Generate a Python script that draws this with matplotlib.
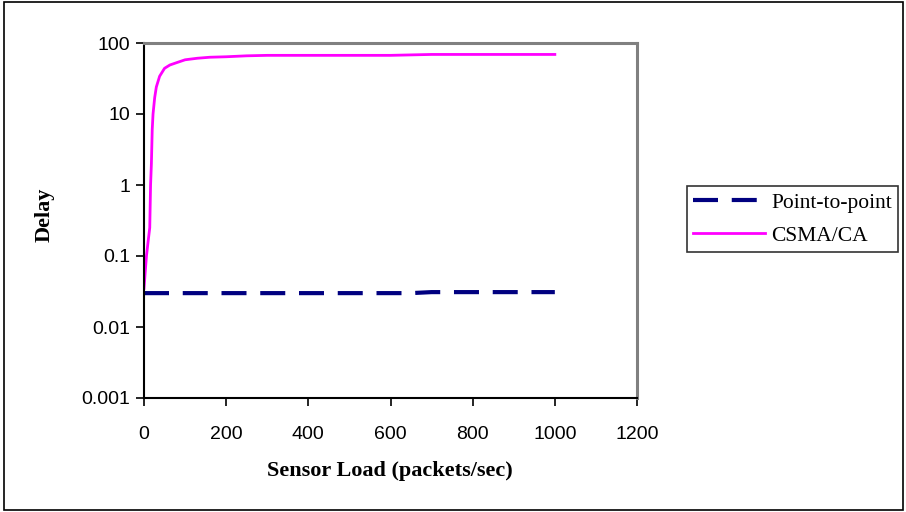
import matplotlib
matplotlib.use("Agg")
import matplotlib.pyplot as plt
from matplotlib.patches import Rectangle
from matplotlib.ticker import FixedLocator, FixedFormatter, NullLocator

# data
load_p2p = [0, 100, 200, 300, 400, 500, 600, 650, 700, 800, 900, 1000]
delay_p2p = [0.030, 0.030, 0.030, 0.030, 0.030, 0.030, 0.030, 0.030, 0.031, 0.031, 0.031, 0.031]

load_csma = [0, 3, 6, 10, 14, 16, 18, 20, 22, 26, 30, 38, 50, 63, 80, 100, 110,
             130, 160, 200, 250, 300, 400, 500, 600, 650, 700, 800, 900, 1000]
delay_csma = [0.035, 0.06, 0.1, 0.16, 0.25, 1.0, 2.0, 6.0, 10, 17, 24, 34, 44, 49, 53, 58, 59,
              61, 63, 64, 66, 67, 67, 67, 67, 68, 69, 69, 69, 69]

series_names = ["Point-to-point", "CSMA/CA"]
y_ticks = [0.001, 0.01, 0.1, 1, 10, 100]
y_tick_labels = ["0.001", "0.01", "0.1", "1", "10", "100"]
x_ticks = [0, 200, 400, 600, 800, 1000, 1200]
x_tick_labels = ["0", "200", "400", "600", "800", "1000", "1200"]

W, H = 906, 512
fig = plt.figure(figsize=(W / 100, H / 100), dpi=100)
ax = fig.add_axes([144 / W, 1 - 398 / H, (637 - 144) / W, (398 - 43) / H])

ax.plot(load_p2p, delay_p2p, color="#000080", lw=3, dashes=(6, 3.3), label=series_names[0])
ax.plot(load_csma, delay_csma, color="#FF00FF", lw=2, label=series_names[1])

ax.set_yscale("log")
ax.set_ylim(0.001, 100)
ax.set_xlim(0, 1200)
ax.yaxis.set_major_locator(FixedLocator(y_ticks))
ax.yaxis.set_major_formatter(FixedFormatter(y_tick_labels))
ax.yaxis.set_minor_locator(NullLocator())
ax.xaxis.set_major_locator(FixedLocator(x_ticks))
ax.xaxis.set_major_formatter(FixedFormatter(x_tick_labels))

for lab in ax.get_xticklabels() + ax.get_yticklabels():
    lab.set_fontfamily("Liberation Sans")
    lab.set_fontsize(14)
ax.tick_params(direction="out", length=6, width=1.2, color="black")
ax.tick_params(axis="y", pad=4)
ax.tick_params(axis="x", pad=14)

for s in ["left", "bottom"]:
    ax.spines[s].set_color("black")
    ax.spines[s].set_linewidth(1.5)
for s in ["top", "right"]:
    ax.spines[s].set_color("#808080")
    ax.spines[s].set_linewidth(2.2)

ax.set_xlabel("Sensor Load (packets/sec)", fontfamily="Liberation Serif",
              fontweight="bold", fontsize=16)
ax.xaxis.set_label_coords(390 / W, 1 - 471 / H, transform=fig.transFigure)
ax.set_ylabel("Delay", fontfamily="Liberation Serif", fontweight="bold",
              fontsize=16)
ax.yaxis.set_label_coords(45 / W, 1 - 215 / H, transform=fig.transFigure)
ax.xaxis.label.set_va("center")
ax.yaxis.label.set_va("center")

leg = fig.legend(loc="upper left", bbox_to_anchor=(687 / W, 1 - 186 / H),
                 prop=dict(family="Liberation Serif", size=15.5),
                 frameon=True, fancybox=False, handlelength=3.3,
                 borderpad=0.3, labelspacing=0.6, handletextpad=0.3,
                 borderaxespad=0)
leg.get_frame().set_edgecolor("black")
leg.get_frame().set_linewidth(1.2)

fig.patches.append(Rectangle((4 / W, 1 - 510 / H), (903 - 4) / W, (510 - 2) / H,
                             transform=fig.transFigure, fill=False,
                             edgecolor="black", linewidth=1.2))

fig.savefig("out.png", dpi=100)
